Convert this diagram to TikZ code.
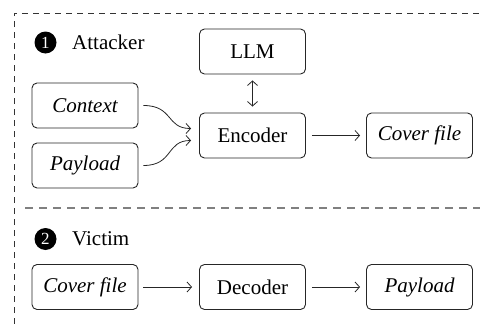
\documentclass[tikz,border=0pt]{standalone}
\usepackage{fontspec}
\setmainfont{Liberation Serif}
\usetikzlibrary{arrows.meta}
\begin{document}
\begin{tikzpicture}[x=1pt,y=-1pt,
  >={Straight Barb[length=4.5pt,width=10pt,line width=0.8pt]},
  box/.style={draw=black!85, rounded corners=5pt, minimum width=106pt, minimum height=45pt, line width=0.9pt, inner sep=0pt, font=\fontsize{21}{24}\selectfont},
  lbl/.style={anchor=base west, inner sep=0pt, font=\fontsize{21}{24}\selectfont},
  numdot/.style={circle, fill=black, text=white, minimum size=22pt, inner sep=0pt, font=\fontsize{17}{18}\selectfont},
  conn/.style={->, line width=0.8pt, black!85},
  frame/.style={line width=0.9pt, black!80, dash pattern=on 6pt off 5pt},
  sep/.style={line width=1.3pt, black!50, dash pattern=on 8pt off 6pt}]
\useasboundingbox (0,0) rectangle (480,324);
\coordinate (fbl) at (14,324);
\coordinate (ftl) at (14,13);
\coordinate (ftr) at (480,13);
\coordinate (sl) at (25,208);
\coordinate (sr) at (480,208);
\draw[frame] (fbl) -- (ftl) -- (ftr);
\draw[sep] (sl) -- (sr);
% section 1
\node[numdot] (n1) at (45.5,42.5) {1};
\node[lbl] (att) at (72,49) {Attacker};
\node[box] (llm) at (252.5,51.5) {LLM};
\node[box] (ctx) at (85,105.5) {\itshape Context};
\node[box] (pay) at (85,165.5) {\itshape Payload};
\node[box] (enc) at (252.5,135.5) {Encoder};
\node[box] (cov) at (419.5,135.5) {\itshape Cover file};
\draw[conn, <->] ([yshift=-6pt]llm.south) -- ([yshift=6pt]enc.north);
\draw[conn] ([xshift=5pt]ctx.east) .. controls +(30,0) and +(-25,0) .. ([xshift=-8pt,yshift=7pt]enc.west);
\draw[conn] ([xshift=5pt]pay.east) .. controls +(30,0) and +(-25,0) .. ([xshift=-8pt,yshift=-5pt]enc.west);
\draw[conn] ([xshift=6pt]enc.east) -- ([xshift=-6pt]cov.west);
% section 2
\node[numdot] (n2) at (45.5,239) {2};
\node[lbl] (vic) at (72,245.5) {Victim};
\node[box] (cov2) at (85,287) {\itshape Cover file};
\node[box] (dec) at (252.5,287) {Decoder};
\node[box] (pay2) at (419.5,287) {\itshape Payload};
\draw[conn] ([xshift=5pt]cov2.east) -- ([xshift=-7pt]dec.west);
\draw[conn] ([xshift=6pt]dec.east) -- ([xshift=-6pt]pay2.west);
\end{tikzpicture}
\end{document}
